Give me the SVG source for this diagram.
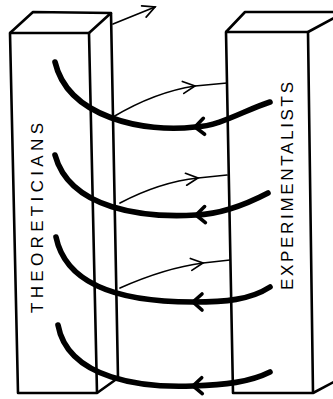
<svg xmlns="http://www.w3.org/2000/svg" width="333" height="399" viewBox="0 0 333 399">
<style>
.box{fill:none;stroke:#000;stroke-width:2.6;stroke-linejoin:round}
.thick{fill:none;stroke:#000;stroke-width:5.6;stroke-linecap:round}
.thin{fill:none;stroke:#000;stroke-width:1.7;stroke-linecap:round}
.lbl{font-family:"Liberation Sans",Arial,sans-serif;font-size:17px;fill:#000}
</style>
<defs>
<marker id="ah-thick" markerUnits="userSpaceOnUse" markerWidth="30" markerHeight="30" refX="0" refY="0" orient="auto" overflow="visible">
<path d="M-9,-8 L0,0 L-9,8" fill="none" stroke="#000" stroke-width="3.6" stroke-linecap="round" stroke-linejoin="miter"/>
</marker>
<marker id="ah-thin" markerUnits="userSpaceOnUse" markerWidth="30" markerHeight="30" refX="0" refY="0" orient="auto" overflow="visible">
<path d="M-12,-6 L0,0 L-12,6" fill="none" stroke="#000" stroke-width="1.7" stroke-linecap="round"/>
</marker>
</defs>
<rect width="333" height="399" fill="#fff"/>
<g id="theoreticians">
<path class="box" d="M10,33 L89,33 L97,393 L18,393 Z"/>
<path class="box" d="M10,33 L33,12 L111,13 L89,33"/>
<path class="box" d="M111,13 L118,378 L97,393"/>
<text class="lbl" transform="translate(43,218) rotate(-90)" text-anchor="middle" textLength="190" lengthAdjust="spacing">THEORETICIANS</text>
</g>
<g id="experimentalists">
<path class="box" d="M226,32 L308,32 L313,393 L233,393 Z"/>
<path class="box" d="M226,32 L245,12 L345,12 L308,32"/>
<path class="box" d="M313,393 L345,376"/>
<text class="lbl" transform="translate(293,186) rotate(-90)" text-anchor="middle" textLength="208" lengthAdjust="spacing">EXPERIMENTALISTS</text>
</g>
<g id="connectors">
<path class="thin" d="M113,24 L155,7" marker-end="url(#ah-thin)"/>
<path class="thick" style="marker-mid:url(#ah-thick)" d="M270,102 C245,110 220,126 195,127 C145,133 68,118 55,62"/>
<path class="thick" style="marker-mid:url(#ah-thick)" d="M268,193 C245,205 222,214 196,215 C145,218 70,210 55,155"/>
<path class="thick" style="marker-mid:url(#ah-thick)" d="M270,287 C250,300 225,302 193,302 C145,302 68,295 56,237"/>
<path class="thick" style="marker-mid:url(#ah-thick)" d="M270,372 C250,382 225,385 193,386 C145,388 68,380 58,325"/>
<path class="thin" style="marker-mid:url(#ah-thin)" d="M113,117 Q155,92 195,86 L227,83"/>
<path class="thin" style="marker-mid:url(#ah-thin)" d="M120,203 Q160,182 198,178 L227,175"/>
<path class="thin" style="marker-mid:url(#ah-thin)" d="M120,288 Q165,268 203,263 L230,260"/>
</g>
</svg>
